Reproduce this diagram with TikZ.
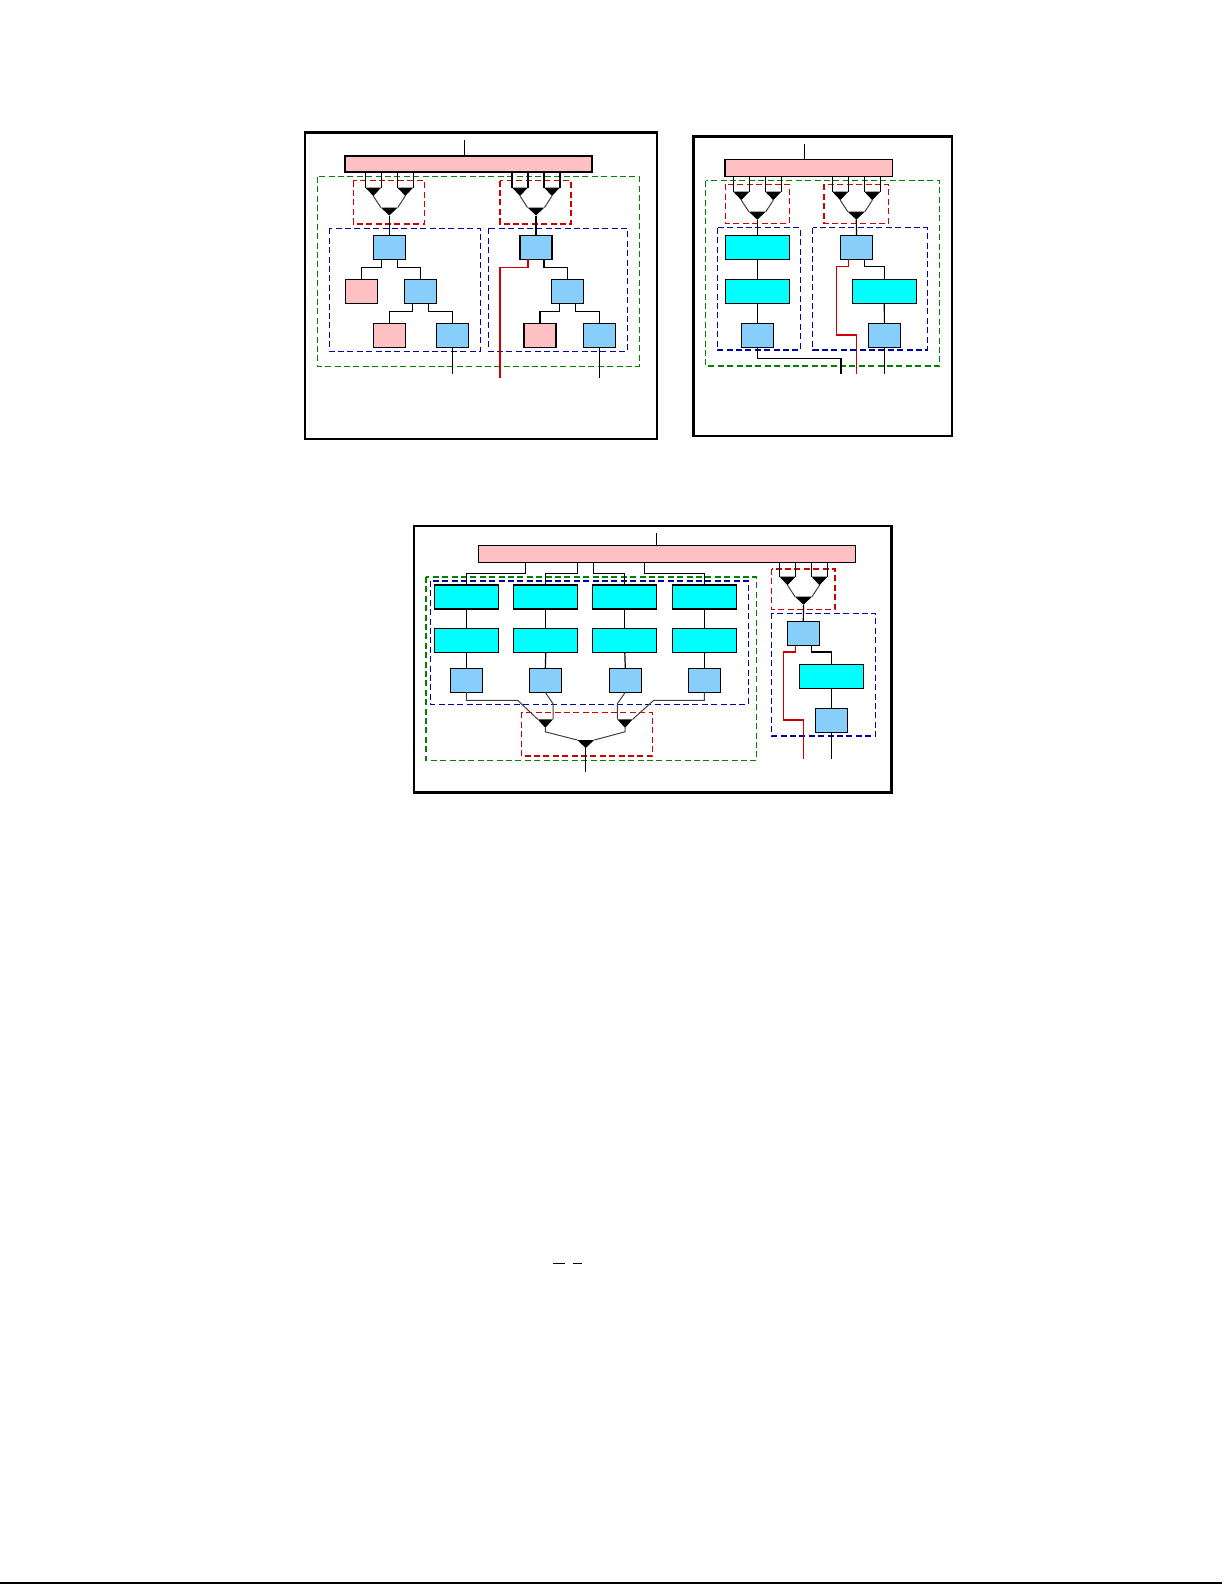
\documentclass[tikz,border=0pt]{standalone}
\usetikzlibrary{calc}
\definecolor{pk}{RGB}{255,192,196}
\definecolor{lb}{RGB}{135,206,250}
\definecolor{cy}{RGB}{0,255,255}
\definecolor{dg}{RGB}{0,128,0}
\definecolor{dr}{RGB}{204,0,0}
\definecolor{db}{RGB}{0,0,170}
\tikzset{
  boxbase/.style={draw=black, line width=0.65pt, inner sep=0pt, outer sep=0pt},
  bbox/.style={boxbase, fill=lb, minimum width=16pt, minimum height=12pt},
  pbox/.style={boxbase, fill=pk, minimum width=16pt, minimum height=12pt},
  cbox/.style={boxbase, fill=cy, minimum width=32pt, minimum height=12pt},
  barbox/.style={boxbase, fill=pk},
  wire/.style={black, line width=0.6pt},
  rwire/.style={dr, line width=0.7pt},
  dwire/.style={black!75, line width=0.5pt},
  gdash/.style={dg, line width=0.6pt, dash pattern=on 3pt off 1.7pt},
  rdash/.style={dr, line width=0.6pt, dash pattern=on 3pt off 1.7pt},
  bdash/.style={db, line width=0.6pt, dash pattern=on 3pt off 1.7pt},
  frame/.style={black, line width=1.3pt},
}
\newcommand{\muxsym}[3]{%
  \coordinate (#1-i1) at ({#2-24},#3);
  \coordinate (#1-i2) at ({#2-8},#3);
  \coordinate (#1-i3) at ({#2+8},#3);
  \coordinate (#1-i4) at ({#2+24},#3);
  \coordinate (#1-a) at ({#2-16},{#3+8.5});
  \coordinate (#1-b) at ({#2+16},{#3+8.5});
  \coordinate (#1-c) at ({#2-8.5},{#3+20});
  \coordinate (#1-d) at ({#2+8.5},{#3+20});
  \coordinate (#1-o) at (#2,{#3+28});
  \fill[black] (#1-i1) -- (#1-i2) -- (#1-a) -- cycle;
  \fill[black] (#1-i3) -- (#1-i4) -- (#1-b) -- cycle;
  \fill[black] (#1-c) -- (#1-d) -- (#1-o) -- cycle;
  \draw[dwire] (#1-a) -- (#1-c);
  \draw[dwire] (#1-b) -- (#1-d);
}
\begin{document}
\begin{tikzpicture}[x=0.5pt,y=-0.5pt]
\useasboundingbox (0,0) rectangle (1225,1585);

% ================= Panel 1 =================
\draw[frame] (305,132.3) rectangle (657,439);
\draw[gdash] (317.3,176.7) rectangle (639.3,366.2);
\draw[rdash] (353.3,180.5) rectangle (424.3,224);
\draw[rdash] (500,180.5) rectangle (571,224);
\draw[bdash] (329.3,228.3) rectangle (480.3,351.3);
\draw[bdash] (488.3,228.3) rectangle (627.3,351.3);

\node[barbox, minimum width=123.5pt, minimum height=8pt] (bar1) at (468.5,164) {};
\coordinate (p1in) at (464.3,140);
\draw[wire] (p1in) -- (p1in |- bar1.north);

\muxsym{m1}{389.3}{187.5}
\muxsym{m2}{536}{187.5}
\foreach \i in {1,...,4} {
  \draw[wire] (bar1.south -| m1-i\i) -- (m1-i\i);
  \draw[wire] (bar1.south -| m2-i\i) -- (m2-i\i);
}

\node[bbox] (p1t1) at (389.3,247.3) {};
\node[pbox] (p1k1) at (361.3,291.3) {};
\node[bbox] (p1m1) at (420.8,291.3) {};
\node[pbox] (p1k2) at (389.3,335.3) {};
\node[bbox] (p1b1) at (452.3,335.3) {};
\node[bbox] (p1t2) at (536,247.3) {};
\node[bbox] (p1m2) at (567.2,291.3) {};
\node[pbox] (p1k3) at (540,335.3) {};
\node[bbox] (p1b2) at (599.3,335.3) {};

\draw[wire] (m1-o) -- (p1t1.north);
\draw[wire] (m2-o) -- (p1t2.north);
\draw[wire] ($(p1t1.south)+(-8,0)$) -- ++(0,8) -| (p1k1.north);
\draw[wire] ($(p1t1.south)+(8,0)$) -- ++(0,8) -| (p1m1.north);
\draw[wire] ($(p1m1.south)+(-8,0)$) -- ++(0,8) -| (p1k2.north);
\draw[wire] ($(p1m1.south)+(8,0)$) -- ++(0,8) -| (p1b1.north);
\coordinate (p1o1) at (452.3,374.3);
\draw[wire] (p1b1.south) -- (p1o1);

\coordinate (p1o2) at (500,378.3);
\draw[rwire] ($(p1t2.south)+(-8,0)$) -- ++(0,8) -| (p1o2);
\draw[wire] ($(p1t2.south)+(8,0)$) -- ++(0,8) -| (p1m2.north);
\draw[wire] ($(p1m2.south)+(-8,0)$) -- ++(0,8) -| (p1k3.north);
\draw[wire] ($(p1m2.south)+(8,0)$) -- ++(0,8) -| (p1b2.north);
\coordinate (p1o3) at (599.3,378.3);
\draw[wire] (p1b2.south) -- (p1o3);

% ================= Panel 2 =================
\draw[frame] (693.3,136.7) rectangle (952,436);
\draw[gdash] (705.7,180.7) rectangle (939.7,366);
\draw[rdash] (725.3,184.3) rectangle (789.3,223.3);
\draw[rdash] (824,184.3) rectangle (888.7,223.3);
\draw[bdash] (717.3,227.7) rectangle (800.3,350);
\draw[bdash] (812.7,227.7) rectangle (927.3,350);

\node[barbox, minimum width=83.65pt, minimum height=8.5pt] (bar2) at (808.65,167.8) {};
\coordinate (p2in) at (804.3,144);
\draw[wire] (p2in) -- (p2in |- bar2.north);

\muxsym{m3}{757.3}{191.7}
\muxsym{m4}{856.3}{191.7}
\foreach \i in {1,...,4} {
  \draw[wire] (bar2.south -| m3-i\i) -- (m3-i\i);
  \draw[wire] (bar2.south -| m4-i\i) -- (m4-i\i);
}

\node[cbox] (p2c1) at (757.3,247.3) {};
\node[cbox] (p2c2) at (757.3,291.3) {};
\node[bbox] (p2b1) at (757.3,335.3) {};
\node[bbox] (p2t2) at (856.5,247.3) {};
\node[cbox] (p2c3) at (884.3,291.3) {};
\node[bbox] (p2b2) at (884.4,335.3) {};

\draw[wire] (m3-o) -- (p2c1.north);
\draw[wire] (m4-o) -- (p2t2.north);
\draw[wire] (p2c1.south) -- (p2c2.north);
\draw[wire] (p2c2.south) -- (p2b1.north);
\coordinate (p2o1) at (841,374.3);
\draw[wire] (p2b1.south) -- ++(0,11) -| (p2o1);
\coordinate (p2r1) at (836.7,335);
\coordinate (p2o2) at (856.7,374.3);
\draw[rwire] ($(p2t2.south)+(-8,0)$) -- ++(0,7.4) -| (p2r1) -| (p2o2);
\draw[wire] ($(p2t2.south)+(8,0)$) -- ++(0,7.4) -| (p2c3.north);
\draw[wire] (p2c3.south) -- (p2b2.north);
\coordinate (p2o3) at (884.4,374.3);
\draw[wire] (p2b2.south) -- (p2o3);

% ================= Panel 3 =================
\draw[frame] (414,526) rectangle (891.5,792.5);
\draw[gdash] (426,577) rectangle (756.7,760.3);
\draw[bdash] (430.3,581) rectangle (748.3,704.3);
\draw[rdash] (521.3,712.3) rectangle (652.3,756);
\draw[rdash] (771.7,569) rectangle (835,609.3);
\draw[bdash] (771.7,613.3) rectangle (875.7,736);

\node[barbox, minimum width=188.7pt, minimum height=8.3pt] (bar3) at (667,554) {};
\coordinate (p3in) at (656.3,533.3);
\draw[wire] (p3in) -- (p3in |- bar3.north);

% columns
\node[cbox] (c1a) at (466.3,597) {};
\node[cbox] (c2a) at (545.8,597) {};
\node[cbox] (c3a) at (624.8,597) {};
\node[cbox] (c4a) at (704.3,597) {};
\node[cbox] (c1c) at (466.3,640.7) {};
\node[cbox] (c2c) at (545.8,640.7) {};
\node[cbox] (c3c) at (624.8,640.7) {};
\node[cbox] (c4c) at (704.3,640.7) {};
\node[bbox] (c1b) at (466.3,680.3) {};
\node[bbox] (c2b) at (545.3,680.3) {};
\node[bbox] (c3b) at (625.3,680.3) {};
\node[bbox] (c4b) at (704.3,680.3) {};
\foreach \c in {1,2,3,4} {
  \draw[wire] (c\c a.south) -- (c\c c.north);
  \draw[wire] (c\c c.south) -- (c\c b.north);
}
\coordinate (t1) at (525.3,573.3);
\coordinate (t2) at (577.3,573.3);
\coordinate (t3) at (593.7,573.3);
\coordinate (t4) at (644.3,573.3);
\draw[wire] (bar3.south -| t1) -- (t1) -| (c1a.north);
\draw[wire] (bar3.south -| t2) -- (t2) -| (c2a.north);
\draw[wire] (bar3.south -| t3) -- (t3) -| (c3a.north);
\draw[wire] (bar3.south -| t4) -- (t4) -| (c4a.north);

% bottom mux
\coordinate (bm-i1) at (537.7,719.3);
\coordinate (bm-i2) at (553,719.3);
\coordinate (bm-i3) at (617.3,719.3);
\coordinate (bm-i4) at (632.7,719.3);
\coordinate (bm-a) at (545.3,727.8);
\coordinate (bm-b) at (625,727.8);
\coordinate (bm-c) at (577.2,740);
\coordinate (bm-d) at (594.2,740);
\coordinate (bm-o) at (585.7,748);
\coordinate (bm-out) at (585.7,771.7);
\fill[black] (bm-i1) -- (bm-i2) -- (bm-a) -- cycle;
\fill[black] (bm-i3) -- (bm-i4) -- (bm-b) -- cycle;
\fill[black] (bm-c) -- (bm-d) -- (bm-o) -- cycle;
\draw[dwire] (bm-a) -- ++(0,4) -- (bm-c);
\draw[dwire] (bm-b) -- ++(0,4) -- (bm-d);
\draw[wire] (bm-o) -- (bm-out);
\draw[dwire] (c1b.south) -- ++(0,8) -- (517.7,700.3) -- (bm-i1);
\draw[dwire] (c2b.south) -- (553,703.7) -- (bm-i2);
\draw[dwire] (c3b.south) -- (617.3,703.7) -- (bm-i3);
\draw[dwire] (c4b.south) -- ++(0,8) -- (653.7,700.3) -- (bm-i4);

% right column of panel 3
\muxsym{m5}{803.5}{576.7}
\foreach \i in {1,...,4} {
  \draw[wire] (bar3.south -| m5-i\i) -- (m5-i\i);
}
\node[bbox] (p3t) at (803.3,633.5) {};
\node[cbox] (p3c) at (831.3,676.3) {};
\node[bbox] (p3b) at (831.3,720.3) {};
\draw[wire] (m5-o) -- (p3t.north);
\coordinate (p3r1) at (783.3,720);
\coordinate (p3o1) at (803.3,759.3);
\draw[rwire] ($(p3t.south)+(-8,0)$) -- ++(0,6.4) -| (p3r1) -| (p3o1);
\draw[wire] ($(p3t.south)+(8,0)$) -- ++(0,6.4) -| (p3c.north);
\draw[wire] (p3c.south) -- (p3b.north);
\coordinate (p3o2) at (831.3,759.3);
\draw[wire] (p3b.south) -- (p3o2);

% ================= stray marks =================
\draw[black, line width=0.65pt] (553.3,1263.5) -- (565,1263.5);
\draw[black, line width=0.65pt] (573.3,1263.5) -- (582.3,1263.5);
\draw[black, line width=1pt] (0,1583.3) -- (1222,1583.3);
\end{tikzpicture}
\end{document}
